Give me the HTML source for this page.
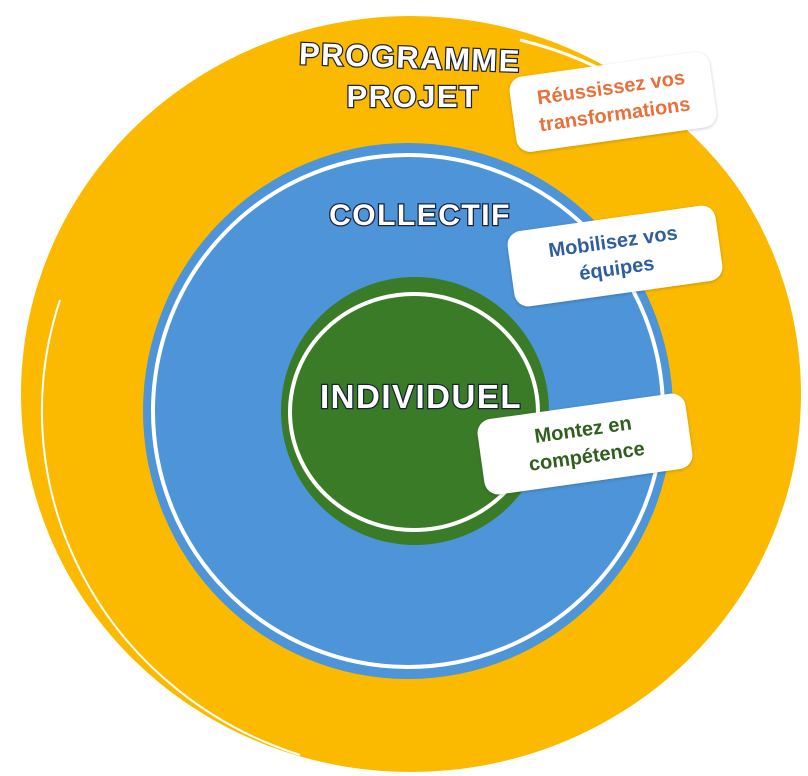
<!DOCTYPE html>
<html><head><meta charset="utf-8"><style>
html,body{margin:0;padding:0;background:#fff;}
body{width:808px;height:776px;position:relative;overflow:hidden;font-family:"Liberation Sans",sans-serif;}
.t{position:absolute;color:#fff;font-weight:bold;-webkit-text-stroke:2.5px #1a2238;paint-order:stroke fill;letter-spacing:1.5px;white-space:nowrap;transform:translate(-50%,-50%);}
.lab{position:absolute;background:#fff;border-radius:14px;font-weight:bold;text-align:center;font-size:20px;line-height:27px;display:flex;align-items:center;justify-content:center;box-shadow:0 1px 3px rgba(0,0,0,.2);}
</style></head><body>
<svg width="808" height="776" style="position:absolute;left:0;top:0">
<ellipse cx="411" cy="394" rx="390" ry="378" fill="#FBBA00"/>
<path d="M 520 40 A 375 362 0 0 1 780 520" fill="none" stroke="#fff" stroke-width="3"/>
<path d="M 300 755 A 375 362 0 0 1 60 300" fill="none" stroke="#fff" stroke-width="2"/>
<ellipse cx="408" cy="411" rx="265" ry="268" fill="#4D94D8"/>
<ellipse cx="408" cy="411" rx="255" ry="256" fill="none" stroke="#fff" stroke-width="4"/>
<circle cx="415" cy="411" r="134" fill="#3A7B27"/>
<ellipse cx="414" cy="412" rx="124" ry="118" fill="none" stroke="#fff" stroke-width="4"/>
</svg>
<div class="t" style="left:410px;top:58px;font-size:31px;transform:translate(-50%,-50%) rotate(2deg)">PROGRAMME</div>
<div class="t" style="left:413px;top:97px;font-size:31px;">PROJET</div>
<div class="t" style="left:420px;top:216px;font-size:30px;">COLLECTIF</div>
<div class="t" style="left:421px;top:397px;font-size:33px;">INDIVIDUEL</div>
<div class="lab" style="left:512px;top:64px;width:202px;height:76px;transform:rotate(-8deg);color:#E8703A;">Réussissez vos<br>transformations</div>
<div class="lab" style="left:510px;top:218px;width:210px;height:76px;transform:rotate(-8deg);color:#2E5E9E;">Mobilisez vos<br>équipes</div>
<div class="lab" style="left:480px;top:406px;width:210px;height:76px;transform:rotate(-8deg);color:#2F5E1F;">Montez en<br>compétence</div>
</body></html>
